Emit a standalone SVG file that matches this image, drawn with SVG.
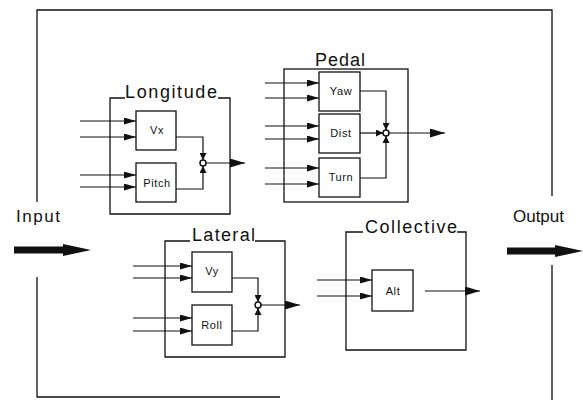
<svg xmlns="http://www.w3.org/2000/svg" width="583" height="400" viewBox="0 0 583 400">
<defs>
<marker id="ah" markerWidth="12" markerHeight="7" refX="12" refY="3.5" orient="auto" markerUnits="userSpaceOnUse"><path d="M0,0 L12,3.5 L0,7 z" fill="#111"/></marker>
<marker id="ahOut" markerWidth="15" markerHeight="9" refX="15" refY="4.5" orient="auto" markerUnits="userSpaceOnUse"><path d="M0,0 L15,4.5 L0,9 z" fill="#111"/></marker>
<marker id="ahJ" markerWidth="7" markerHeight="7" refX="7" refY="3.5" orient="auto" markerUnits="userSpaceOnUse"><path d="M0,0 L7,3.5 L0,7 z" fill="#111"/></marker>
</defs>
<style>
.box{fill:none;stroke:#111;stroke-width:1.3}
.blk{fill:#fff;stroke:#111;stroke-width:1.3}
.ln{fill:none;stroke:#111;stroke-width:1.2}
.in{fill:none;stroke:#111;stroke-width:1.2;marker-end:url(#ah)}
.out{fill:none;stroke:#111;stroke-width:1.2;marker-end:url(#ahOut)}
.jn{fill:none;stroke:#111;stroke-width:1.2;marker-end:url(#ahJ)}
.sum{fill:#fff;stroke:#111;stroke-width:1.5}
.big{fill:#111}
text{font-family:"Liberation Sans",Arial,sans-serif;fill:#111}
.title{font-size:18px}
.io{font-size:17px}
.lbl{font-size:11px;text-anchor:middle;letter-spacing:0.6px}
</style>
<g id="frame">
<path class="box" d="M37,202 V10 H552 V196 M552,265 V400 M37,277 V397 H280"/>
</g>
<g id="input">
<text class="io" x="16" y="222" textLength="44" lengthAdjust="spacing">Input</text>
<polygon class="big" points="14,246.5 63,246.5 63,244 91,250 63,256 63,253.5 14,253.5"/>
</g>
<g id="output">
<text class="io" x="513" y="222" textLength="51" lengthAdjust="spacing">Output</text>
<polygon class="big" points="507,247.5 555,247.5 555,245 583,251 555,257 555,254.5 507,254.5"/>
</g>
<g id="longitude">
<path class="box" d="M125,98 H110 V214 H230 V98 H218"/>
<text class="title" x="125" y="98" textLength="92" lengthAdjust="spacing">Longitude</text>
<g id="vx"><rect class="blk" x="136" y="111" width="40" height="39"/><text class="lbl" x="157" y="134">Vx</text></g>
<g id="pitch"><rect class="blk" x="136" y="163" width="40" height="39"/><text class="lbl" x="157" y="187">Pitch</text></g>
<circle class="sum" cx="203" cy="163" r="3"/>
</g>
<g id="pedal">
<rect class="box" x="284" y="69" width="124" height="133"/>
<text class="title" x="315" y="66" textLength="50" lengthAdjust="spacing">Pedal</text>
<g id="yaw"><rect class="blk" x="319" y="72" width="41" height="39"/><text class="lbl" x="341" y="95">Yaw</text></g>
<g id="dist"><rect class="blk" x="319" y="114" width="41" height="39"/><text class="lbl" x="341" y="137">Dist</text></g>
<g id="turn"><rect class="blk" x="319" y="158" width="41" height="39"/><text class="lbl" x="341" y="181">Turn</text></g>
<circle class="sum" cx="386" cy="133" r="3"/>
</g>
<g id="lateral">
<path class="box" d="M190,241 H165 V357 H285 V241 H255"/>
<text class="title" x="192" y="241" textLength="63" lengthAdjust="spacing">Lateral</text>
<g id="vy"><rect class="blk" x="192" y="252" width="40" height="40"/><text class="lbl" x="212" y="275">Vy</text></g>
<g id="roll"><rect class="blk" x="192" y="305" width="40" height="40"/><text class="lbl" x="212" y="329">Roll</text></g>
<circle class="sum" cx="258" cy="305" r="3"/>
</g>
<g id="collective">
<path class="box" d="M363,232 H346 V350 H466 V232 H457"/>
<text class="title" x="365" y="233" textLength="92" lengthAdjust="spacing">Collective</text>
<g id="alt"><rect class="blk" x="372" y="270" width="41" height="41"/><text class="lbl" x="393" y="295">Alt</text></g>
</g>
<g id="connectors">
<path class="in" d="M80,121 H136"/>
<path class="in" d="M80,137 H136"/>
<path class="in" d="M80,175 H136"/>
<path class="in" d="M80,187 H136"/>
<path class="jn" d="M176,137 H203 V160"/>
<path class="jn" d="M176,189 H203 V166"/>
<path class="out" d="M206,163 H245"/>

<path class="in" d="M265,83 H319"/>
<path class="in" d="M265,98 H319"/>
<path class="in" d="M265,126 H319"/>
<path class="in" d="M265,139 H319"/>
<path class="in" d="M265,168 H319"/>
<path class="in" d="M265,184 H319"/>
<path class="jn" d="M360,91 H386 V130"/>
<path class="jn" d="M360,178 H386 V136"/>
<path class="jn" d="M360,133 H383"/>
<path class="out" d="M389,133 H445"/>

<path class="in" d="M133,266 H192"/>
<path class="in" d="M133,278 H192"/>
<path class="in" d="M133,318 H192"/>
<path class="in" d="M133,331 H192"/>
<path class="jn" d="M232,278 H258 V302"/>
<path class="jn" d="M232,331 H258 V308"/>
<path class="out" d="M261,305 H300"/>

<path class="in" d="M317,280 H372"/>
<path class="in" d="M317,296 H372"/>
<path class="out" d="M425,291 H480"/>
</g>
</svg>
